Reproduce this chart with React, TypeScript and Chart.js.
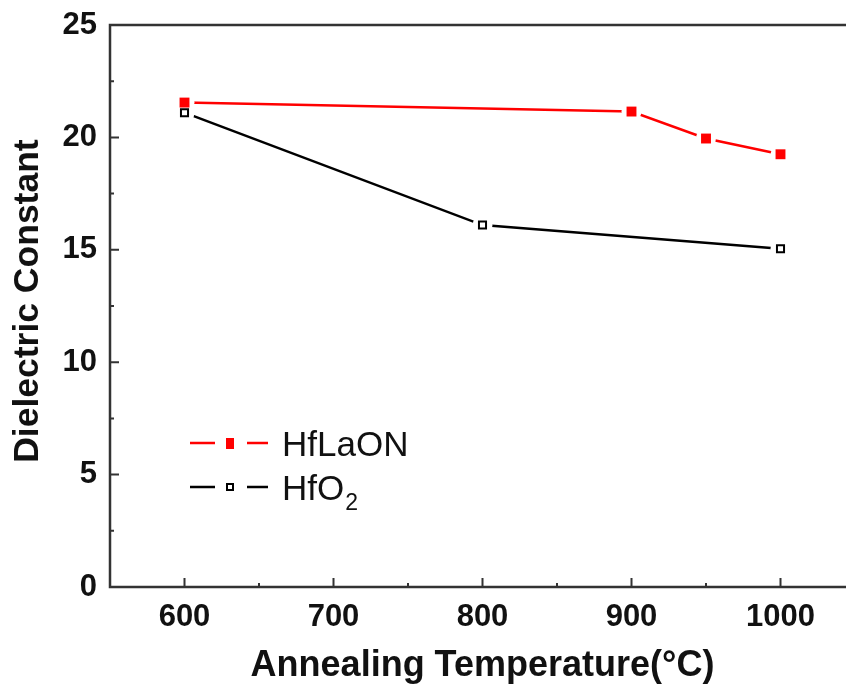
import React, { useEffect, useRef } from "react";
import { Chart, registerables } from "chart.js";

Chart.register(...registerables);

const seriesNames = ["HfLaON", "HfO2"];
const hfLaONTemps = [600, 900, 950, 1000];
const hfLaONValues = [21.55, 21.15, 19.95, 19.25];
const hfO2Temps = [600, 800, 1000];
const hfO2Values = [21.1, 16.1, 15.05];
const xMajorTicks = [600, 700, 800, 900, 1000];
const xMinorTicks = [650, 750, 850, 950];
const yMajorTicks = [0, 5, 10, 15, 20, 25];
const yMinorTicks = [2.5, 7.5, 12.5, 17.5, 22.5];

const RED = "#ff0000";
const BLACK = "#000000";
const FONT = '"Liberation Sans", Arial, sans-serif';

const pts = (xs: number[], ys: number[]) => xs.map((x, i) => ({ x, y: ys[i] }));

const framePlugin = {
  id: "frame",
  beforeDatasetsDraw(chart: any) {
    const { ctx, chartArea: a, scales } = chart;
    const xs = scales.x;
    const ys = scales.y;
    ctx.save();
    ctx.strokeStyle = "#333";
    ctx.lineWidth = 2.5;
    ctx.strokeRect(a.left, a.top, a.right - a.left, a.bottom - a.top);
    ctx.lineWidth = 2;
    ctx.beginPath();
    xMajorTicks.forEach((v) => {
      const p = xs.getPixelForValue(v);
      ctx.moveTo(p, a.bottom);
      ctx.lineTo(p, a.bottom - 9);
    });
    xMinorTicks.forEach((v) => {
      const p = xs.getPixelForValue(v);
      ctx.moveTo(p, a.bottom);
      ctx.lineTo(p, a.bottom - 4);
    });
    yMajorTicks.forEach((v) => {
      const p = ys.getPixelForValue(v);
      ctx.moveTo(a.left, p);
      ctx.lineTo(a.left + 9, p);
    });
    yMinorTicks.forEach((v) => {
      const p = ys.getPixelForValue(v);
      ctx.moveTo(a.left, p);
      ctx.lineTo(a.left + 4, p);
    });
    ctx.stroke();
    ctx.restore();
  },
};

const legendPlugin = {
  id: "customLegend",
  afterDraw(chart: any) {
    const { ctx } = chart;
    const rows = [
      { y: 443, color: RED, filled: true },
      { y: 487, color: BLACK, filled: false },
    ];
    ctx.save();
    rows.forEach((r, i) => {
      ctx.strokeStyle = r.color;
      ctx.lineWidth = 2.5;
      ctx.beginPath();
      ctx.moveTo(190, r.y);
      ctx.lineTo(215, r.y);
      ctx.moveTo(247, r.y);
      ctx.lineTo(268, r.y);
      ctx.stroke();
      if (r.filled) {
        ctx.fillStyle = r.color;
        ctx.fillRect(226, r.y - 5, 8, 11);
      } else {
        ctx.fillStyle = "#fff";
        ctx.fillRect(227, r.y - 3, 6, 6);
        ctx.lineWidth = 2;
        ctx.strokeRect(227, r.y - 3, 6, 6);
      }
      ctx.fillStyle = "#111";
      ctx.textBaseline = "alphabetic";
      ctx.textAlign = "left";
      ctx.font = `35px ${FONT}`;
      if (i === 0) {
        ctx.fillText(seriesNames[0], 282, r.y + 13);
      } else {
        const base = "HfO";
        ctx.fillText(base, 282, r.y + 13);
        const w = ctx.measureText(base).width;
        ctx.font = `23px ${FONT}`;
        ctx.fillText("2", 282 + w + 1, r.y + 23);
      }
    });
    ctx.restore();
  },
};

export default function App() {
  const ref = useRef<HTMLCanvasElement>(null);
  useEffect(() => {
    if (!ref.current) return;
    const chart = new Chart(ref.current, {
      type: "line",
      data: {
        datasets: [
          {
            label: "markers " + seriesNames[0],
            data: pts(hfLaONTemps, hfLaONValues),
            showLine: false,
            pointStyle: "rect",
            pointRadius: 7,
            pointBorderWidth: 0,
            pointBackgroundColor: RED,
            pointBorderColor: RED,
          },
          {
            label: "markers " + seriesNames[1],
            data: pts(hfO2Temps, hfO2Values),
            showLine: false,
            pointStyle: "rect",
            pointRadius: 5,
            pointBorderWidth: 2,
            pointBackgroundColor: "#fff",
            pointBorderColor: BLACK,
          },
          {
            label: seriesNames[0],
            data: pts(hfLaONTemps, hfLaONValues),
            borderColor: RED,
            borderWidth: 2.5,
            pointStyle: "circle",
            pointRadius: 10,
            pointBorderWidth: 0,
            pointBackgroundColor: "#ffffff",
            pointBorderColor: "#ffffff",
          },
          {
            label: seriesNames[1],
            data: pts(hfO2Temps, hfO2Values),
            borderColor: BLACK,
            borderWidth: 2.5,
            pointStyle: "circle",
            pointRadius: 10,
            pointBorderWidth: 0,
            pointBackgroundColor: "#ffffff",
            pointBorderColor: "#ffffff",
          },
        ],
      },
      options: {
        animation: false,
        responsive: false,
        devicePixelRatio: 1,
        layout: { padding: { top: 25, right: 25, left: 0, bottom: 0 } },
        plugins: { legend: { display: false }, tooltip: { enabled: false } },
        scales: {
          x: {
            type: "linear",
            min: 550,
            max: 1050,
            grid: { display: false, drawTicks: false },
            border: { display: false },
            afterBuildTicks: (s: any) => {
              s.ticks = xMajorTicks.map((v) => ({ value: v }));
            },
            afterFit: (s: any) => {
              s.height = 99;
              s.paddingLeft = 0;
              s.paddingRight = 0;
            },
            ticks: {
              color: "#111",
              font: { family: FONT, size: 31, weight: "bold" },
              padding: 12,
              maxRotation: 0,
              callback: (v: any) => String(v),
            },
            title: {
              display: true,
              text: "Annealing Temperature(°C)",
              color: "#111",
              font: { family: FONT, size: 36, weight: "bold" },
              padding: { top: 0, bottom: -2 },
            },
          },
          y: {
            type: "linear",
            min: 0,
            max: 25,
            grid: { display: false, drawTicks: false },
            border: { display: false },
            afterBuildTicks: (s: any) => {
              s.ticks = yMajorTicks.map((v) => ({ value: v }));
            },
            afterFit: (s: any) => {
              s.width = 110;
              s.paddingTop = 0;
              s.paddingBottom = 0;
            },
            ticks: {
              color: "#111",
              font: { family: FONT, size: 31, weight: "bold" },
              padding: 13,
              callback: (v: any) => String(v),
            },
            title: {
              display: true,
              text: " Dielectric Constant",
              color: "#111",
              font: { family: FONT, size: 35.5, weight: "bold" },
              padding: { top: 7, bottom: 0 },
            },
          },
        },
      },
      plugins: [framePlugin, legendPlugin],
    });
    return () => chart.destroy();
  }, []);
  return (
    <div
      style={{
        position: "fixed",
        left: 0,
        top: 0,
        width: 846,
        height: 686,
        overflow: "hidden",
        background: "#fff",
      }}
    >
      <canvas ref={ref} width={880} height={686} style={{ display: "block", width: 880, height: 686 }} />
    </div>
  );
}
